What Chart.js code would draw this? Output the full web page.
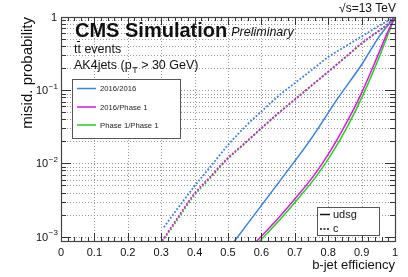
<!DOCTYPE html>
<html>
<head>
<meta charset="utf-8">
<script src="https://cdn.jsdelivr.net/npm/chart.js@4.4.1/dist/chart.umd.min.js"></script>
<style>
  html, body { margin: 0; padding: 0; background: #fff; }
  #c { display: block; }
</style>
</head>
<body>
<canvas id="c" width="408" height="277"></canvas>
<script>
// b-jet efficiency vs misid. probability
var seriesNames = ['2016/2016', '2016/Phase 1', 'Phase 1/Phase 1'];
var seriesColors = ['#3b80d9', '#e014e0', '#22d022'];

// udsg (solid)
var udsgEff2016 = [0.518, 0.656, 0.746, 0.829, 0.901, 0.955, 1.0];
var udsgMis2016 = [0.00085, 0.00582, 0.0208, 0.0778, 0.226, 0.562, 1];
var udsgEffMix = [0.584, 0.647, 0.707, 0.758, 0.802, 0.850, 0.897, 0.949, 0.976, 1.0];
var udsgMisMix = [0.00085, 0.00171, 0.00355, 0.00692, 0.0137, 0.0328, 0.0857, 0.301, 0.592, 1];
var udsgEffPh1 = [0.593, 0.656, 0.716, 0.767, 0.811, 0.859, 0.904, 0.955, 0.980, 1.0];
var udsgMisPh1 = [0.00085, 0.00171, 0.00355, 0.00692, 0.0137, 0.0328, 0.0857, 0.301, 0.592, 1];

// c (dotted)
var cEff2016 = [0.308, 0.35, 0.40, 0.45, 0.50, 0.556, 0.60, 0.656, 0.70, 0.75, 0.80, 0.85, 0.90, 0.955, 1.0];
var cMis2016 = [0.00134, 0.00245, 0.0049, 0.00933, 0.0178, 0.0333, 0.0513, 0.087, 0.125, 0.188, 0.284, 0.393, 0.542, 0.771, 1];
var cEffMix = [0.303, 0.35, 0.396, 0.45, 0.496, 0.55, 0.611, 0.656, 0.70, 0.75, 0.80, 0.85, 0.90, 0.95, 0.975, 1.0];
var cMisMix = [0.00088, 0.00183, 0.00368, 0.0068, 0.0114, 0.0189, 0.0336, 0.051, 0.0745, 0.116, 0.179, 0.279, 0.435, 0.638, 0.776, 1];
var cEffPh1 = [0.303, 0.35, 0.396, 0.45, 0.496, 0.55, 0.611, 0.656, 0.70, 0.75, 0.80, 0.85, 0.90, 0.95, 0.975, 1.0];
var cMisPh1 = [0.00085, 0.00174, 0.0035, 0.00653, 0.0111, 0.0186, 0.0333, 0.0506, 0.0741, 0.115, 0.178, 0.278, 0.434, 0.638, 0.776, 1];

var xTicks = [0, 0.1, 0.2, 0.3, 0.4, 0.5, 0.6, 0.7, 0.8, 0.9, 1];
var xTickLabels = ['0', '0.1', '0.2', '0.3', '0.4', '0.5', '0.6', '0.7', '0.8', '0.9', '1'];
var yMajor = [0.001, 0.01, 0.1, 1];
var yExp = ['\u22123', '\u22122', '\u22121', ''];

var FONT = '"Liberation Sans", Arial, Helvetica, sans-serif';

function pts(xs, ys) {
  return xs.map(function (x, i) { return { x: x, y: ys[i] }; });
}

function ds(xs, ys, color, dotted) {
  return {
    data: pts(xs, ys),
    borderColor: color,
    borderWidth: dotted ? 1.8 : 1.5,
    borderDash: dotted ? [1.8, 1.8] : [],
    pointRadius: 0,
    cubicInterpolationMode: 'monotone',
    fill: false
  };
}

var rootStyle = {
  id: 'rootStyle',
  beforeDatasetsDraw: function (chart) {
    var ctx = chart.ctx, a = chart.chartArea;
    var xs = chart.scales.x, ys = chart.scales.y;
    ctx.save();
    ctx.strokeStyle = '#999';
    ctx.lineWidth = 1;
    ctx.setLineDash([1, 2]);
    xTicks.forEach(function (v) {
      if (v <= 0 || v >= 1) return;
      var px = Math.round(xs.getPixelForValue(v)) + 0.5;
      ctx.beginPath(); ctx.moveTo(px, a.top); ctx.lineTo(px, a.bottom); ctx.stroke();
    });
    for (var d = -3; d < 0; d++) {
      for (var m = 1; m <= 9; m++) {
        var py = Math.round(ys.getPixelForValue(m * Math.pow(10, d))) + 0.5;
        if (py >= a.bottom - 1) continue;
        ctx.beginPath(); ctx.moveTo(a.left, py); ctx.lineTo(a.right, py); ctx.stroke();
      }
    }
    ctx.restore();
  },
  afterDraw: function (chart) {
    var ctx = chart.ctx, a = chart.chartArea;
    var xs = chart.scales.x, ys = chart.scales.y;
    ctx.save();
    ctx.setLineDash([]);
    ctx.strokeStyle = '#333';
    ctx.lineWidth = 1;
    // ticks
    ctx.beginPath();
    for (var i = 0; i <= 50; i++) {
      var px = Math.round(xs.getPixelForValue(i / 50)) + 0.5;
      var len = (i % 5 === 0) ? 8 : 4;
      ctx.moveTo(px, a.bottom); ctx.lineTo(px, a.bottom - len);
      ctx.moveTo(px, a.top); ctx.lineTo(px, a.top + len);
    }
    for (var d = -3; d <= 0; d++) {
      for (var m = 1; m <= 9; m++) {
        var v = m * Math.pow(10, d);
        if (v > 1) break;
        var py = Math.round(ys.getPixelForValue(v)) + 0.5;
        if (py > a.bottom) continue;
        var l = (m === 1) ? 10 : 5;
        ctx.moveTo(a.left, py); ctx.lineTo(a.left + l, py);
        ctx.moveTo(a.right, py); ctx.lineTo(a.right - l, py);
      }
    }
    ctx.stroke();
    // frame
    ctx.strokeStyle = '#444';
    ctx.lineWidth = 1.2;
    ctx.strokeRect(a.left + 0.5, a.top + 0.5, a.right - a.left, a.bottom - a.top);

    // tick labels
    ctx.fillStyle = '#111';
    ctx.font = '11px ' + FONT;
    ctx.textAlign = 'center';
    ctx.textBaseline = 'alphabetic';
    xTicks.forEach(function (v, i) {
      ctx.fillText(xTickLabels[i], xs.getPixelForValue(v), 255.5);
    });
    yMajor.forEach(function (v, i) {
      var py = ys.getPixelForValue(v);
      ctx.textBaseline = 'middle';
      if (v === 1) {
        ctx.textAlign = 'right';
        ctx.font = '11px ' + FONT;
        ctx.fillText('1', 57, py + 1);
        return;
      }
      ctx.textAlign = 'left';
      ctx.font = '11px ' + FONT;
      ctx.fillText('10', 36, py + 1);
      var w = ctx.measureText('10').width;
      ctx.font = '8px ' + FONT;
      ctx.fillText(yExp[i], 36 + w + 0.5, py - 3.5);
    });

    // axis titles
    ctx.font = '13px ' + FONT;
    ctx.textBaseline = 'alphabetic';
    ctx.textAlign = 'right';
    ctx.fillText('b-jet efficiency', 395, 269);
    ctx.save();
    ctx.translate(32, 17);
    ctx.rotate(-Math.PI / 2);
    ctx.textAlign = 'right';
    ctx.font = '15px ' + FONT;
    ctx.fillText('misid. probability', 0, 0);
    ctx.restore();

    // header texts
    ctx.textAlign = 'right';
    ctx.font = '12px ' + FONT;
    ctx.fillText('\u221As=13 TeV', 396, 11.5);
    ctx.textAlign = 'left';
    ctx.font = 'bold 20px ' + FONT;
    ctx.fillText('CMS Simulation', 75, 36.5);
    var cw = ctx.measureText('CMS Simulation').width;
    ctx.font = 'italic 12.5px ' + FONT;
    ctx.fillText('Preliminary', 75 + cw + 4, 36);
    ctx.font = '12.5px ' + FONT;
    ctx.fillText('tt events', 74, 52.5);
    // bar over the second t
    var t1 = ctx.measureText('t').width, t2 = ctx.measureText('tt').width;
    ctx.fillRect(Math.round(74 + t1), 41, Math.max(3, Math.round(t2 - t1)), 1);
    var s1 = 'AK4jets (p';
    ctx.fillText(s1, 74, 68.5);
    var x1 = 74 + ctx.measureText(s1).width;
    ctx.font = '9px ' + FONT;
    ctx.fillText('T', x1 + 0.5, 72.5);
    var x2 = x1 + 0.5 + ctx.measureText('T').width;
    ctx.font = '12.5px ' + FONT;
    ctx.fillText(' > 30 GeV)', x2, 68.5);

    // legend: taggers
    ctx.fillStyle = '#fff';
    ctx.fillRect(72.5, 79.5, 108, 59);
    ctx.strokeStyle = '#555';
    ctx.lineWidth = 1;
    ctx.strokeRect(72.5, 79.5, 108, 59);
    var ly = [88.5, 107, 125];
    ctx.font = '7.7px ' + FONT;
    ctx.textBaseline = 'middle';
    ctx.textAlign = 'left';
    seriesNames.forEach(function (n, i) {
      ctx.strokeStyle = seriesColors[i];
      ctx.lineWidth = 1.5;
      ctx.beginPath(); ctx.moveTo(77, ly[i]); ctx.lineTo(96, ly[i]); ctx.stroke();
      ctx.fillStyle = '#222';
      ctx.fillText(n, 100, ly[i] + 0.5);
    });

    // legend: flavours
    ctx.fillStyle = '#fff';
    ctx.fillRect(317.5, 207.5, 62, 28);
    ctx.strokeStyle = '#555';
    ctx.lineWidth = 1;
    ctx.strokeRect(317.5, 207.5, 62, 28);
    ctx.strokeStyle = '#111';
    ctx.lineWidth = 1.5;
    ctx.beginPath(); ctx.moveTo(320, 214.5); ctx.lineTo(330, 214.5); ctx.stroke();
    ctx.setLineDash([2, 1.5]);
    ctx.beginPath(); ctx.moveTo(320, 229); ctx.lineTo(330, 229); ctx.stroke();
    ctx.setLineDash([]);
    ctx.fillStyle = '#111';
    ctx.font = '11px ' + FONT;
    ctx.fillText('udsg', 333, 214.5);
    ctx.fillText('c', 333, 228.5);
    ctx.restore();
  }
};

var ctx = document.getElementById('c').getContext('2d');
new Chart(ctx, {
  type: 'line',
  data: {
    datasets: [
      ds(cEff2016, cMis2016, seriesColors[0], true),
      ds(cEffMix, cMisMix, seriesColors[1], true),
      ds(cEffPh1, cMisPh1, seriesColors[2], true),
      ds(udsgEff2016, udsgMis2016, seriesColors[0], false),
      ds(udsgEffMix, udsgMisMix, seriesColors[1], false),
      ds(udsgEffPh1, udsgMisPh1, seriesColors[2], false)
    ]
  },
  options: {
    responsive: false,
    animation: false,
    devicePixelRatio: 1,
    layout: { padding: { left: 61, right: 13, top: 17, bottom: 36 } },
    plugins: { legend: { display: false }, tooltip: { enabled: false } },
    scales: {
      x: { type: 'linear', min: 0, max: 1, display: false },
      y: { type: 'logarithmic', min: 0.00087, max: 1, display: false }
    }
  },
  plugins: [rootStyle]
});
</script>
</body>
</html>
